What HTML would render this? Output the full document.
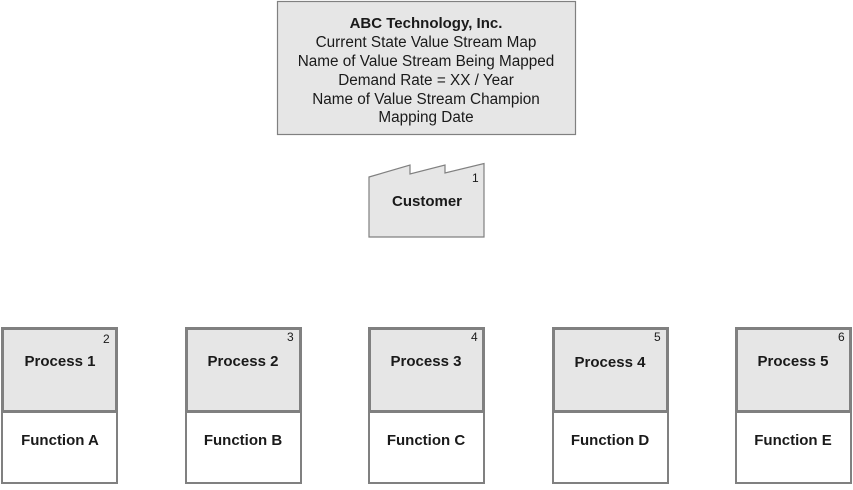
<!DOCTYPE html>
<html><head><style>
body{margin:0;background:#fff;}
svg text{font-family:"Liberation Sans",Arial,sans-serif;fill:#1a1a1a;}
</style></head><body>
<svg width="853" height="485" viewBox="0 0 853 485" xmlns="http://www.w3.org/2000/svg">
<rect x="277.5" y="1.5" width="298" height="133" fill="#e6e6e6" stroke="#808080" stroke-width="1.2"/>
<g font-size="15.3" text-anchor="middle">
<text x="426" y="28" font-weight="bold" font-size="15">ABC Technology, Inc.</text>
<text x="426" y="47">Current State Value Stream Map</text>
<text x="426" y="66">Name of Value Stream Being Mapped</text>
<text x="426" y="85">Demand Rate = XX / Year</text>
<text x="426" y="104">Name of Value Stream Champion</text>
<text x="426" y="122">Mapping Date</text>
</g>
<path d="M369,177 L410,165 L410,174 L445,165 L445,173 L484,163.5 L484,237 L369,237 Z" fill="#e6e6e6" stroke="#808080" stroke-width="1.2"/>
<text x="472" y="182" font-size="12">1</text>
<text x="427" y="206" font-size="15" font-weight="bold" text-anchor="middle">Customer</text>
<g id="boxes">
<g transform="translate(1,327)">
<rect x="1" y="84" width="115" height="72" fill="#fff" stroke="#808080" stroke-width="2"/>
<rect x="1.5" y="1.5" width="114" height="83" fill="#e6e6e6" stroke="#808080" stroke-width="3"/>
</g>
<g transform="translate(185,327)">
<rect x="1" y="84" width="115" height="72" fill="#fff" stroke="#808080" stroke-width="2"/>
<rect x="1.5" y="1.5" width="114" height="83" fill="#e6e6e6" stroke="#808080" stroke-width="3"/>
</g>
<g transform="translate(368,327)">
<rect x="1" y="84" width="115" height="72" fill="#fff" stroke="#808080" stroke-width="2"/>
<rect x="1.5" y="1.5" width="114" height="83" fill="#e6e6e6" stroke="#808080" stroke-width="3"/>
</g>
<g transform="translate(552,327)">
<rect x="1" y="84" width="115" height="72" fill="#fff" stroke="#808080" stroke-width="2"/>
<rect x="1.5" y="1.5" width="114" height="83" fill="#e6e6e6" stroke="#808080" stroke-width="3"/>
</g>
<g transform="translate(735,327)">
<rect x="1" y="84" width="115" height="72" fill="#fff" stroke="#808080" stroke-width="2"/>
<rect x="1.5" y="1.5" width="114" height="83" fill="#e6e6e6" stroke="#808080" stroke-width="3"/>
</g>
</g>
<g font-size="15" font-weight="bold" text-anchor="middle">
<text x="60" y="366">Process 1</text><text x="60" y="445">Function A</text>
<text x="243" y="366">Process 2</text><text x="243" y="445">Function B</text>
<text x="426" y="366">Process 3</text><text x="426" y="445">Function C</text>
<text x="610" y="367">Process 4</text><text x="610" y="445">Function D</text>
<text x="793" y="366">Process 5</text><text x="793" y="445">Function E</text>
</g>
<g font-size="12">
<text x="103" y="343">2</text>
<text x="287" y="341">3</text>
<text x="471" y="341">4</text>
<text x="654" y="341">5</text>
<text x="838" y="341">6</text>
</g>
</svg>
</body></html>
